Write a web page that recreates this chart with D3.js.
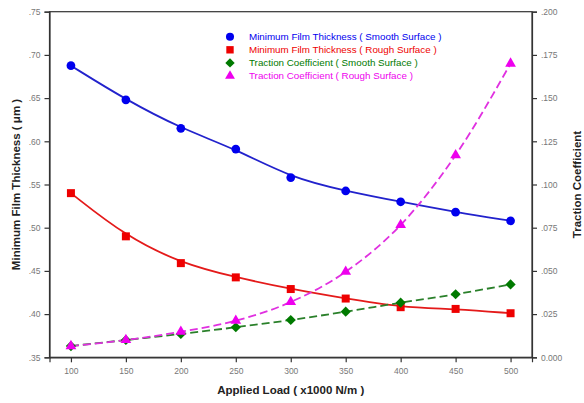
<!DOCTYPE html>
<html>
<head>
<meta charset="utf-8">
<script src="https://cdn.jsdelivr.net/npm/d3@7"></script>
<style>
  html, body { margin: 0; padding: 0; background: #fff; }
  svg { display: block; font-family: "Liberation Sans", Arial, sans-serif; }
</style>
</head>
<body>
<svg id="chart" width="584" height="403"></svg>
<script>
// Applied load (x1000 N/m)
const loads = [100, 150, 200, 250, 300, 350, 400, 450, 500];

// Minimum film thickness (µm), left axis
const filmSmooth = [0.6875, 0.648, 0.615, 0.591, 0.558, 0.5425, 0.530, 0.518, 0.508];
const filmRough  = [0.540, 0.490, 0.459, 0.4425, 0.429, 0.418, 0.408, 0.406, 0.401];

// Traction coefficient, right axis
const tractionSmooth = [0.0065, 0.010, 0.0135, 0.0174, 0.0216, 0.0264, 0.0316, 0.0365, 0.0422];
const tractionRough  = [0.0065, 0.010, 0.0148, 0.0212, 0.032, 0.0495, 0.0766, 0.117, 0.170];

// Tick values
const xTicks = [100, 150, 200, 250, 300, 350, 400, 450, 500];
const leftTicks = [0.35, 0.40, 0.45, 0.50, 0.55, 0.60, 0.65, 0.70, 0.75];
const rightTicks = [0, 0.025, 0.05, 0.075, 0.1, 0.125, 0.15, 0.175, 0.2];

const legendLabels = [
  "Minimum Film Thickness ( Smooth Surface )",
  "Minimum Film Thickness ( Rough Surface )",
  "Traction Coefficient ( Smooth Surface )",
  "Traction Coefficient ( Rough Surface )"
];

const svg = d3.select("#chart");
const L = 49.5, R = 532, T = 11.7, B = 357.3;

const x = d3.scaleLinear().domain([80.5, 519.5]).range([L, R]);
const yL = d3.scaleLinear().domain([0.35, 0.75]).range([B, T]);
const yR = d3.scaleLinear().domain([0, 0.2]).range([B, T]);

const axisColor = "#333";
const tickText = "#777";

// Frame
svg.append("rect")
  .attr("x", L).attr("y", T).attr("width", R - L).attr("height", B - T)
  .attr("fill", "none").attr("stroke", axisColor).attr("stroke-width", 1.2);

function styleAxis(g) {
  g.select(".domain").attr("stroke", axisColor).attr("stroke-width", 1.2);
  g.selectAll(".tick line").attr("stroke", axisColor).attr("stroke-width", 1.2);
  g.selectAll(".tick text").attr("fill", tickText).attr("font-size", 8.5);
}

svg.append("g").attr("transform", `translate(0,${B})`)
  .call(d3.axisBottom(x).tickValues(xTicks).tickSize(5).tickPadding(6).tickFormat(d3.format("d")))
  .call(styleAxis);

svg.append("g").attr("transform", `translate(${L},0)`)
  .call(d3.axisLeft(yL).tickValues(leftTicks).tickSize(5).tickPadding(4)
    .tickFormat(d => d3.format(".2f")(d).replace(/^0/, "")))
  .call(styleAxis);

svg.append("g").attr("transform", `translate(${R},0)`)
  .call(d3.axisRight(yR).tickValues(rightTicks).tickSize(5).tickPadding(4)
    .tickFormat(d => d === 0 ? "0.000" : d3.format(".3f")(d).replace(/^0/, "")))
  .call(styleAxis);

// Axis titles
svg.append("text")
  .attr("transform", `translate(20,${(T + B) / 2}) rotate(-90)`)
  .attr("text-anchor", "middle").attr("font-size", 11.5).attr("font-weight", "bold").attr("fill", "#222")
  .text("Minimum Film Thickness ( \u03bcm )");

svg.append("text")
  .attr("transform", `translate(581,${(T + B) / 2}) rotate(-90)`)
  .attr("text-anchor", "middle").attr("font-size", 11.5).attr("font-weight", "bold").attr("fill", "#222")
  .text("Traction Coefficient");

svg.append("text")
  .attr("x", (L + R) / 2).attr("y", 394)
  .attr("text-anchor", "middle").attr("font-size", 11.5).attr("font-weight", "bold").attr("fill", "#222")
  .text("Applied Load ( x1000 N/m )");

// Series: marker shape, size and rotation per series
const series = [
  { vals: filmSmooth, y: yL, color: "#0000ee", line: "#2222cc", dash: null, sym: d3.symbolCircle, size: 60, rot: 0, curve: d3.curveBasis },
  { vals: filmRough, y: yL, color: "#ee0000", line: "#e41a1a", dash: null, sym: d3.symbolSquare, size: 64, rot: 0, curve: d3.curveBasis },
  { vals: tractionSmooth, y: yR, color: "#007a00", line: "#2a802a", dash: "8,4", sym: d3.symbolSquare, size: 52, rot: 45, curve: d3.curveMonotoneX },
  { vals: tractionRough, y: yR, color: "#ee00ee", line: "#e030e0", dash: "8,4", sym: d3.symbolTriangle, size: 50, rot: 0, curve: d3.curveMonotoneX }
];

series.forEach(s => {
  const line = d3.line().x((d, i) => x(loads[i])).y(d => s.y(d)).curve(s.curve);
  svg.append("path").datum(s.vals)
    .attr("d", line).attr("fill", "none")
    .attr("stroke", s.line).attr("stroke-width", 1.8)
    .attr("stroke-dasharray", s.dash);
});

series.forEach(s => {
  svg.append("g").selectAll("path").data(s.vals).join("path")
    .attr("transform", (d, i) => `translate(${x(loads[i])},${s.y(d)}) rotate(${s.rot})`)
    .attr("d", d3.symbol().type(s.sym).size(s.size))
    .attr("fill", s.color);
});

// Legend
const lg = svg.append("g");
legendLabels.forEach((t, i) => {
  const yy = 36.7 + i * 13.1;
  lg.append("path")
    .attr("transform", `translate(230,${yy}) rotate(${series[i].rot})`)
    .attr("d", d3.symbol().type(series[i].sym).size(series[i].size * 0.85))
    .attr("fill", series[i].color);
  lg.append("text")
    .attr("x", 249).attr("y", yy + 3.4)
    .attr("font-size", 9.8).attr("fill", series[i].color)
    .text(t);
});
</script>
</body>
</html>
